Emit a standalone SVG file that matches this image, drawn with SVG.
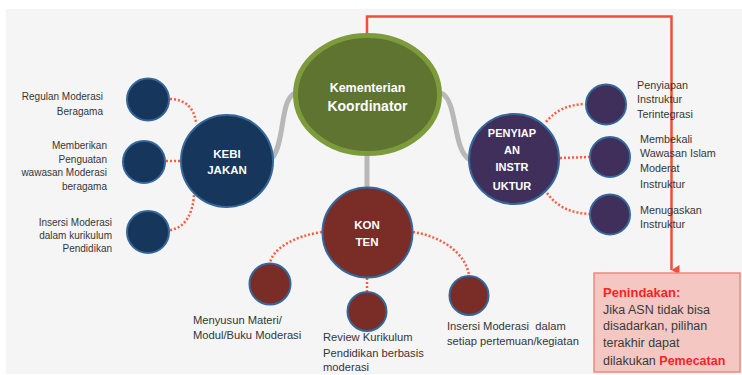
<svg xmlns="http://www.w3.org/2000/svg" width="742" height="375" viewBox="0 0 742 375">
<defs>
<marker id="arr" markerWidth="10" markerHeight="10" refX="5" refY="8" orient="auto" markerUnits="userSpaceOnUse">
<path d="M0,0 L10,0 L5,8 Z" fill="#f0503a"/>
</marker>
</defs>
<style>
.lbl{font-family:"Liberation Sans",Arial,sans-serif;fill:#353535;}
.l10{font-size:10px;}
.l11{font-size:10.8px;}
.l12{font-size:11.2px;}
.hub{font-family:"Liberation Sans",Arial,sans-serif;font-weight:bold;fill:#ffffff;font-size:11px;text-anchor:middle;}
.gray{fill:none;stroke:#b8b8b8;stroke-width:5;stroke-linecap:round;}
.dot{fill:none;stroke:#ff5b3f;stroke-width:2.5;stroke-dasharray:2 2;}
.navy{fill:#16365c;stroke:#34679a;stroke-width:2;}
.purple{fill:#402f5b;stroke:#34679a;stroke-width:2;}
.maroon{fill:#7a2c27;stroke:#34679a;stroke-width:2;}
.box{font-family:"Liberation Sans",Arial,sans-serif;font-size:12.5px;fill:#3a3a3a;}
</style>
<rect x="0" y="0" width="742" height="375" fill="#ffffff"/>
<rect x="6" y="9" width="736" height="365" fill="#f5f5f5"/>

<g id="connectors">
<path class="gray" d="M273,157 C285,140 280,100 295,93"/>
<path class="gray" d="M441,93 C458,100 452,150 470,160"/>
<path class="gray" d="M367,155 L367,190"/>
<path class="dot" d="M170,99 C185,99 194,108 196,122"/>
<path class="dot" d="M166,161 L182,161"/>
<path class="dot" d="M170,230 C186,228 193,212 194,195"/>
<path class="dot" d="M546,122 C556,110 568,105 584,104"/>
<path class="dot" d="M560,158 L589,157"/>
<path class="dot" d="M547,193 C558,208 572,213 589,214"/>
<path class="dot" d="M322,232 C295,236 273,248 270,263"/>
<path class="dot" d="M367,278 L367,291"/>
<path class="dot" d="M413,232 C440,236 465,252 469,275"/>
<path d="M367,33 L367,16.5 L671.5,16.5 L671.5,270" fill="none" stroke="#f0503a" stroke-width="2.5" marker-end="url(#arr)"/>
</g>

<g id="kementerian">
<ellipse cx="367.5" cy="94.5" rx="72" ry="59" fill="#5e7430" stroke="#7c9c3c" stroke-width="5"/>
<text class="hub" x="367.5" y="92" style="font-size:12.5px">Kementerian</text>
<text class="hub" x="367.5" y="111" style="font-size:14px">Koordinator</text>
</g>

<g id="kebijakan">
<circle class="navy" cx="227" cy="161" r="46"/>
<text class="hub" x="227" y="158" style="font-size:11.5px">KEBI</text>
<text class="hub" x="227" y="174" style="font-size:11.5px">JAKAN</text>
</g>
<g id="keb1"><circle class="navy" cx="148" cy="99.5" r="21"/>
<text class="lbl l10" text-anchor="end" x="103" y="100">Regulan Moderasi</text>
<text class="lbl l10" text-anchor="end" x="103" y="115">Beragama</text></g>
<g id="keb2"><circle class="navy" cx="144" cy="162" r="21"/>
<text class="lbl l10" text-anchor="end" x="107" y="149">Memberikan</text>
<text class="lbl l10" text-anchor="end" x="107" y="162.5">Penguatan</text>
<text class="lbl l10" text-anchor="end" x="107" y="176">wawasan Moderasi</text>
<text class="lbl l10" text-anchor="end" x="107" y="190">beragama</text></g>
<g id="keb3"><circle class="navy" cx="148" cy="232" r="21"/>
<text class="lbl l10" text-anchor="end" x="112" y="226">Insersi Moderasi</text>
<text class="lbl l10" text-anchor="end" x="112" y="239">dalam kurikulum</text>
<text class="lbl l10" text-anchor="end" x="112" y="252">Pendidikan</text></g>

<g id="penyiapan">
<circle class="purple" cx="514" cy="159" r="45"/>
<text class="hub" x="512" y="137">PENYIAP</text>
<text class="hub" x="512" y="154">AN</text>
<text class="hub" x="512" y="171">INSTR</text>
<text class="hub" x="512" y="190">UKTUR</text>
</g>
<g id="pen1"><circle class="purple" cx="606" cy="104.5" r="20"/>
<text class="lbl l11" x="637" y="89">Penyiapan</text>
<text class="lbl l11" x="637" y="103">Instruktur</text>
<text class="lbl l11" x="637" y="118">Terintegrasi</text></g>
<g id="pen2"><circle class="purple" cx="610" cy="157" r="20"/>
<text class="lbl l11" x="640" y="143">Membekali</text>
<text class="lbl l11" x="640" y="157">Wawasan Islam</text>
<text class="lbl l11" x="640" y="172">Moderat</text>
<text class="lbl l11" x="640" y="188">Instruktur</text></g>
<g id="pen3"><circle class="purple" cx="610" cy="214.5" r="20"/>
<text class="lbl l11" x="640" y="214">Menugaskan</text>
<text class="lbl l11" x="640" y="228">Instruktur</text></g>

<g id="konten">
<circle class="maroon" cx="367.5" cy="232.5" r="45"/>
<text class="hub" x="367" y="229" style="font-size:11.5px">KON</text>
<text class="hub" x="367" y="246" style="font-size:11.5px">TEN</text>
</g>
<g id="kon1"><circle class="maroon" cx="270" cy="284" r="20.5"/>
<text class="lbl l12" x="193" y="324">Menyusun Materi/</text>
<text class="lbl l12" x="193" y="339">Modul/Buku Moderasi</text></g>
<g id="kon2"><circle class="maroon" cx="367" cy="311.5" r="19.5"/>
<text class="lbl l12" x="323" y="341">Review Kurikulum</text>
<text class="lbl l12" x="323" y="357">Pendidikan berbasis</text>
<text class="lbl l12" x="323" y="371">moderasi</text></g>
<g id="kon3"><circle class="maroon" cx="469" cy="295.5" r="19.5"/>
<text class="lbl l12" x="447" y="330" xml:space="preserve">Insersi Moderasi  dalam</text>
<text class="lbl l12" x="447" y="345">setiap pertemuan/kegiatan</text></g>

<g id="penindakan">
<rect x="594" y="273" width="146" height="99" fill="#f4c7c3" stroke="#f2867c" stroke-width="1.5"/>
<text class="box" x="603" y="297" style="font-weight:bold;fill:#ff1f1f;font-size:13px">Penindakan:</text>
<text class="box" x="603" y="314">Jika ASN tidak bisa</text>
<text class="box" x="603" y="330">disadarkan, pilihan</text>
<text class="box" x="603" y="347">terakhir dapat</text>
<text class="box" x="603" y="365">dilakukan <tspan style="font-weight:bold;fill:#ff1f1f">Pemecatan</tspan></text>
</g>
</svg>
